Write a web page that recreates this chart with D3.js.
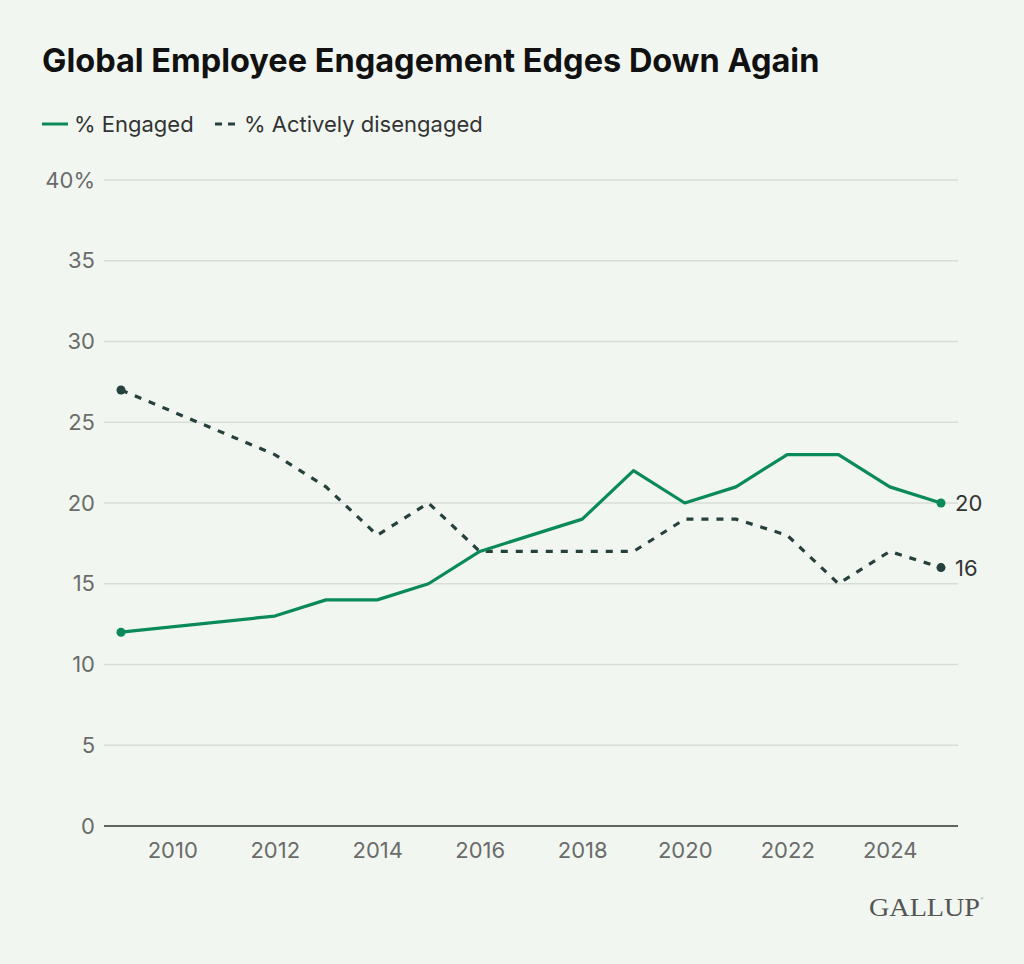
<!DOCTYPE html>
<html>
<head>
<meta charset="utf-8">
<script src="https://cdn.jsdelivr.net/npm/d3@7"></script>
<style>
  html, body { margin: 0; padding: 0; background: #f1f7f0; }
  svg { display: block; }
</style>
</head>
<body>
<svg id="chart" width="1024" height="964"></svg>
<script>
const years      = [2009, 2012, 2013, 2014, 2015, 2016, 2018, 2019, 2020, 2021, 2022, 2023, 2024, 2025];
const engaged    = [12, 13, 14, 14, 15, 17, 19, 22, 20, 21, 23, 23, 21, 20];
const disengaged = [27, 23, 21, 18, 20, 17, 17, 17, 19, 19, 18, 15, 17, 16];
const xTicks     = [2010, 2012, 2014, 2016, 2018, 2020, 2022, 2024];
const yTicks     = [0, 5, 10, 15, 20, 25, 30, 35, 40];
const seriesNames = ["% Engaged", "% Actively disengaged"];
const titleText = "Global Employee Engagement Edges Down Again";

const GREEN = "#0a8a58", DARK = "#25403d";
const FONT = "Inter, 'Noto Sans', sans-serif";

const svg = d3.select("#chart");
svg.append("rect").attr("width", 1024).attr("height", 964).attr("fill", "#f1f7f0");

const x = d3.scaleLinear().domain([2009, 2025]).range([121, 941]);
const y = d3.scaleLinear().domain([0, 40]).range([826, 180]);

// Title
svg.append("text").attr("x", 42).attr("y", 72)
  .attr("font-family", FONT).attr("font-weight", 700).attr("font-size", 32.5)
  .attr("fill", "#111").text(titleText);

// Legend
const lg = svg.append("g").attr("font-family", FONT).attr("font-size", 22).attr("fill", "#333");
lg.append("line").attr("x1", 42).attr("x2", 68).attr("y1", 124).attr("y2", 124)
  .attr("stroke", GREEN).attr("stroke-width", 3);
lg.append("text").attr("x", 74).attr("y", 132).text(seriesNames[0]);
lg.append("line").attr("x1", 215).attr("x2", 235).attr("y1", 124).attr("y2", 124)
  .attr("stroke", DARK).attr("stroke-width", 3).attr("stroke-dasharray", "7,6");
lg.append("text").attr("x", 244).attr("y", 132).text(seriesNames[1]);

// Grid
svg.append("g").selectAll("line").data(yTicks.filter(d => d > 0)).join("line")
  .attr("x1", 104).attr("x2", 958)
  .attr("y1", d => y(d)).attr("y2", d => y(d))
  .attr("stroke", "#d9ddd8").attr("stroke-width", 1.5);

// Y axis
const yAxis = d3.axisLeft(y).tickValues(yTicks).tickSize(0).tickPadding(0)
  .tickFormat(d => d === 40 ? "40%" : d);
const yg = svg.append("g").attr("transform", "translate(95,0)").call(yAxis);
yg.select(".domain").remove();
yg.selectAll("text").attr("font-family", FONT).attr("font-size", 22).attr("fill", "#6b6b6b");

// X axis
const xAxis = d3.axisBottom(x).tickValues(xTicks).tickSize(0).tickPadding(16).tickFormat(d3.format("d"));
const xg = svg.append("g").attr("transform", `translate(0,${y(0)})`).call(xAxis);
xg.select(".domain").remove();
xg.selectAll("text").attr("font-family", FONT).attr("font-size", 22).attr("fill", "#6b6b6b");
svg.append("line").attr("x1", 104).attr("x2", 958).attr("y1", y(0)).attr("y2", y(0))
  .attr("stroke", "#333").attr("stroke-width", 1.5);

// Lines
const line = d3.line().x(d => x(d[0])).y(d => y(d[1]));
const eData = years.map((yr, i) => [yr, engaged[i]]);
const dData = years.map((yr, i) => [yr, disengaged[i]]);

svg.append("path").datum(dData).attr("d", line).attr("fill", "none")
  .attr("stroke", DARK).attr("stroke-width", 3.2).attr("stroke-dasharray", "7,8");
svg.append("path").datum(eData).attr("d", line).attr("fill", "none")
  .attr("stroke", GREEN).attr("stroke-width", 3.2).attr("stroke-linejoin", "round");

// End points
const ends = [
  {d: eData[0], c: GREEN}, {d: eData[eData.length - 1], c: GREEN, label: true},
  {d: dData[0], c: DARK}, {d: dData[dData.length - 1], c: DARK, label: true}
];
svg.append("g").selectAll("circle").data(ends).join("circle")
  .attr("cx", e => x(e.d[0])).attr("cy", e => y(e.d[1])).attr("r", 4.5).attr("fill", e => e.c);
svg.append("g").selectAll("text").data(ends.filter(e => e.label)).join("text")
  .attr("x", e => x(e.d[0]) + 14).attr("y", e => y(e.d[1]) + 8)
  .attr("font-family", FONT).attr("font-size", 22).attr("fill", "#333")
  .text(e => e.d[1]);

// Logo
svg.append("text").attr("x", 980).attr("y", 916).attr("text-anchor", "end")
  .attr("font-family", "'Liberation Serif', serif").attr("font-size", 25)
  .attr("fill", "#555").attr("textLength", 111).attr("lengthAdjust", "spacingAndGlyphs")
  .text("GALLUP");
svg.append("text").attr("x", 980).attr("y", 900).attr("font-family", "'Liberation Serif', serif")
  .attr("font-size", 5).attr("fill", "#777").text("®");
</script>
</body>
</html>
